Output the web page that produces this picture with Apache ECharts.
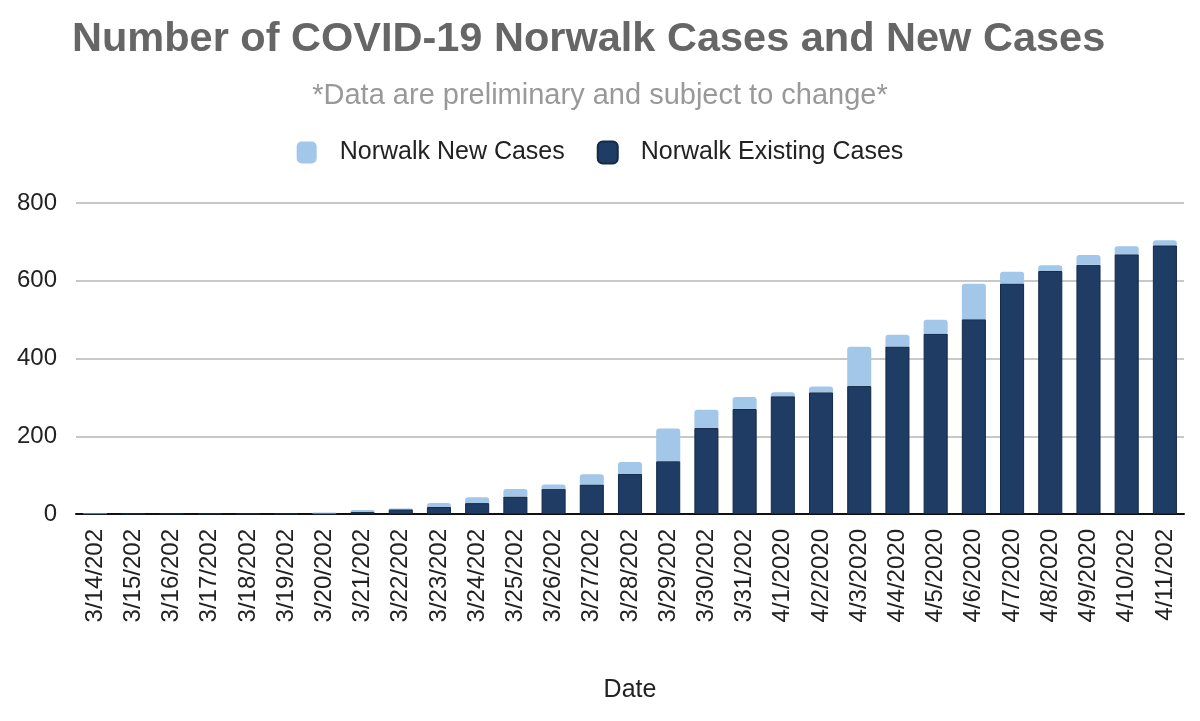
<!DOCTYPE html>
<html>
<head>
<meta charset="utf-8">
<script src="https://cdn.jsdelivr.net/npm/echarts@6/dist/echarts.min.js"></script>
<style>html,body{margin:0;padding:0;background:#fff;}#c{width:1200px;height:721px;}</style>
</head>
<body>
<div id="c"></div>
<script>
const categories = ["3/14/202","3/15/202","3/16/202","3/17/202","3/18/202","3/19/202","3/20/202","3/21/202","3/22/202","3/23/202","3/24/202","3/25/202","3/26/202","3/27/202","3/28/202","3/29/202","3/30/202","3/31/202","4/1/2020","4/2/2020","4/3/2020","4/4/2020","4/5/2020","4/6/2020","4/7/2020","4/8/2020","4/9/2020","4/10/202","4/11/202"];
const existingCases = [0,1,1,1,1,1,1,5,12,18,28,45,65,76,103,136,221,270,303,313,329,431,464,501,593,625,641,668,691];
const newCases = [1,0,0,0,0,0,3,5,2,10,15,19,11,26,31,84,47,31,10,15,101,30,36,91,30,15,25,21,13];
const yTicks = [0,200,400,600,800];

const chart = echarts.init(document.getElementById('c'));
chart.setOption({
  animation: false,
  title: [
    {text: 'Number of COVID-19 Norwalk Cases and New Cases', left: 67, top: 14,
     textStyle: {fontFamily: 'Liberation Sans, Arial', fontWeight: 'bold', fontSize: 41.5, color: '#666'}},
    {text: '*Data are preliminary and subject to change*', left: 'center', top: 76,
     textStyle: {fontFamily: 'Liberation Sans, Arial', fontWeight: 'normal', fontSize: 29, color: '#999'}}
  ],
  legend: {
    top: 135, left: 'center', itemWidth: 20, itemHeight: 22, itemGap: 32,
    icon: 'roundRect',
    textStyle: {fontFamily: 'Liberation Sans, Arial', fontSize: 25, color: '#222', padding: [0,0,0,18]},
    data: ['Norwalk New Cases', 'Norwalk Existing Cases']
  },
  grid: {left: 76, right: 16, top: 203, bottom: 207, containLabel: false},
  xAxis: {
    type: 'category', data: categories,
    name: 'Date', nameLocation: 'middle', nameGap: 164,
    nameTextStyle: {fontFamily: 'Liberation Sans, Arial', fontSize: 25, color: '#222'},
    axisLine: {lineStyle: {color: '#111', width: 2}},
    axisTick: {show: false},
    axisLabel: {rotate: 90, interval: 0, fontFamily: 'Liberation Sans, Arial', fontSize: 24, color: '#222', margin: 15}
  },
  yAxis: {
    type: 'value', min: 0, max: 800, interval: 200,
    axisLine: {show: false}, axisTick: {show: false},
    axisLabel: {fontFamily: 'Liberation Sans, Arial', fontSize: 24, color: '#222', margin: 19,
      formatter: v => yTicks.includes(v) ? String(v) : ''},
    splitLine: {lineStyle: {color: '#c8c8c8', width: 2}}
  },
  series: [
    {name: 'Norwalk Existing Cases', type: 'bar', stack: 'total', data: existingCases, barWidth: '63%',
     itemStyle: {color: '#1f3c65', borderColor: '#132a4a', borderWidth: 1}},
    {name: 'Norwalk New Cases', type: 'bar', stack: 'total', data: newCases, barWidth: '63%',
     itemStyle: {color: '#a3c7e9', borderRadius: [3,3,0,0]}}
  ]
});
</script>
</body>
</html>
